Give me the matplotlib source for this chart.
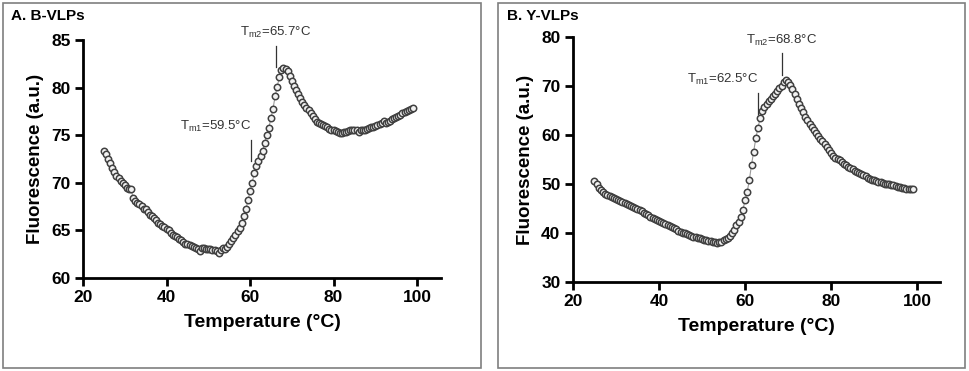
import matplotlib
matplotlib.use('Agg')
import matplotlib.pyplot as plt
from matplotlib.patches import Rectangle
import numpy as np

plt.rcParams['font.family'] = 'Liberation Sans'
plt.rcParams['mathtext.fontset'] = 'custom'
plt.rcParams['mathtext.rm'] = 'Liberation Sans'
plt.rcParams['mathtext.it'] = 'Liberation Sans'

# temperature grid (0.5 C steps, 25 -> 99)
temp = np.arange(25, 99.25, 0.5)

b_vlps = [73.3, 73.0, 72.5, 72.1, 71.6, 71.1, 70.7, 70.5, 70.2, 70.0,
          69.8, 69.5, 69.3, 69.3, 68.4, 68.1, 67.9, 67.8, 67.6, 67.3,
          67.2, 66.9, 66.6, 66.5, 66.3, 66.1, 65.8, 65.7, 65.5, 65.4,
          65.2, 65.0, 64.7, 64.5, 64.4, 64.3, 64.1, 64.0, 63.8, 63.6,
          63.6, 63.5, 63.4, 63.3, 63.2, 63.0, 62.8, 63.2, 63.1, 63.0,
          63.0, 63.0, 62.9, 62.9, 62.8, 62.6, 62.9, 63.1, 63.0, 63.3,
          63.6, 63.9, 64.2, 64.5, 64.9, 65.3, 65.8, 66.5, 67.2, 68.2,
          69.1, 70.0, 71.0, 71.8, 72.3, 72.8, 73.3, 74.2, 75.0, 75.8,
          76.8, 77.8, 79.1, 80.1, 81.1, 81.9, 82.1, 82.0, 81.7, 81.2,
          80.7, 80.2, 79.8, 79.3, 78.9, 78.5, 78.2, 77.9, 77.7, 77.3,
          77.0, 76.7, 76.4, 76.3, 76.2, 76.1, 76.0, 75.9, 75.7, 75.6,
          75.6, 75.4, 75.3, 75.2, 75.2, 75.3, 75.3, 75.4, 75.5, 75.5,
          75.5, 75.5, 75.3, 75.5, 75.6, 75.6, 75.7, 75.8, 75.9, 75.9,
          76.0, 76.1, 76.2, 76.3, 76.5, 76.3, 76.4, 76.5, 76.7, 76.8,
          76.9, 77.0, 77.1, 77.3, 77.4, 77.5, 77.6, 77.8, 77.9]

y_vlps = [50.6, 49.9, 49.2, 48.7, 48.3, 48.0, 47.7, 47.5, 47.3, 47.1,
          46.9, 46.7, 46.5, 46.4, 46.2, 46.0, 45.7, 45.5, 45.3, 45.0,
          44.8, 44.6, 44.4, 44.1, 43.8, 43.6, 43.3, 43.1, 42.8, 42.6,
          42.4, 42.2, 42.0, 41.8, 41.6, 41.4, 41.2, 41.0, 40.8, 40.5,
          40.3, 40.1, 39.9, 39.7, 39.5, 39.3, 39.2, 39.1, 39.0, 38.9,
          38.8, 38.6, 38.5, 38.4, 38.3, 38.2, 38.1, 38.0, 38.1, 38.2,
          38.5, 38.7, 39.0, 39.4, 40.0, 40.7, 41.6, 42.3, 43.3, 44.7,
          46.7, 48.4, 50.8, 53.9, 56.6, 59.3, 61.5, 63.4, 64.8, 65.7,
          66.3, 66.9, 67.4, 67.9, 68.4, 69.0, 69.5, 70.0, 70.8, 71.2,
          70.8, 70.2, 69.3, 68.3, 67.3, 66.4, 65.5, 64.6, 63.7, 63.0,
          62.3, 61.7, 61.1, 60.4, 59.7, 59.2, 58.7, 58.1, 57.5, 56.9,
          56.3, 55.8, 55.4, 55.1, 54.8, 54.4, 54.1, 53.8, 53.5, 53.2,
          53.0, 52.7, 52.5, 52.2, 52.0, 51.8, 51.6, 51.3, 51.1, 50.9,
          50.8, 50.6, 50.5, 50.4, 50.3, 50.1, 50.0, 49.9, 49.8, 49.7,
          49.6, 49.4, 49.3, 49.2, 49.1, 49.0, 49.0, 48.9, 48.9]

panels = ['A. B-VLPs', 'B. Y-VLPs']
ylims = [(60, 85), (30, 80)]
yticks = [[60, 65, 70, 75, 80, 85], [30, 40, 50, 60, 70, 80]]
xticks = [20, 40, 60, 80, 100]
# (label sub, value, line x, line y0, line y1)
tm_b = [('m1', '59.5', 60.2, 72.3, 74.5), ('m2', '65.7', 66.2, 82.2, 84.4)]
tm_y = [('m1', '62.5', 63.0, 64.3, 68.6), ('m2', '68.8', 68.6, 72.2, 76.7)]

fig = plt.figure(figsize=(9.69, 3.71), dpi=100)

# panel boxes
fig.patches.append(Rectangle((3 / 969, 3 / 371), 478 / 969, 365 / 371,
                             transform=fig.transFigure, fill=False,
                             edgecolor='#7f7f7f', lw=1.2))
fig.patches.append(Rectangle((498 / 969, 3 / 371), 467 / 969, 365 / 371,
                             transform=fig.transFigure, fill=False,
                             edgecolor='#7f7f7f', lw=1.2))

ax1 = fig.add_axes([0.0857, 0.2507, 0.3693, 0.6413])
ax2 = fig.add_axes([0.5913, 0.2399, 0.3787, 0.6604])

for ax, data, lim, yt, tms, xl in [(ax1, b_vlps, ylims[0], yticks[0], tm_b, 105.7),
                                   (ax2, y_vlps, ylims[1], yticks[1], tm_y, 105.3)]:
    ax.plot(temp, data, '-', color='#9a9a9a', lw=0.8, zorder=1)
    ax.plot(temp, data, 'o', ms=4.6, mfc='#f2f2f2', mec='#404040', mew=1.1,
            zorder=2, clip_on=False)
    ax.set_xlim(20, xl)
    ax.set_ylim(*lim)
    ax.set_xticks(xticks)
    ax.set_yticks(yt)
    for s in ['top', 'right']:
        ax.spines[s].set_visible(False)
    for s in ['left', 'bottom']:
        ax.spines[s].set_linewidth(2)
    ax.tick_params(width=2, length=6, labelsize=12.5, pad=3)
    for lab in ax.get_xticklabels() + ax.get_yticklabels():
        lab.set_fontweight('bold')
    ax.set_xlabel('Temperature (°C)', fontsize=14, fontweight='bold', labelpad=6)
    ax.set_ylabel('Fluorescence (a.u.)', fontsize=13.5, fontweight='bold', labelpad=5)
    for sub, val, lx, y0, y1 in tms:
        ax.plot([lx, lx], [y0, y1], color='#333333', lw=0.9)
        ax.annotate(r'T$_{\mathrm{%s}}$=%s°C' % (sub, val), xy=(lx, y1),
                    xytext=(0, 4), textcoords='offset points',
                    ha='right' if sub == 'm1' else 'center', va='bottom',
                    fontsize=9.5, color='#333333')

fig.text(11 / 969, 1 - 16 / 371, panels[0], fontsize=11, fontweight='bold', va='center')
fig.text(507 / 969, 1 - 16 / 371, panels[1], fontsize=11, fontweight='bold', va='center')

fig.savefig('out.png', dpi=100)
